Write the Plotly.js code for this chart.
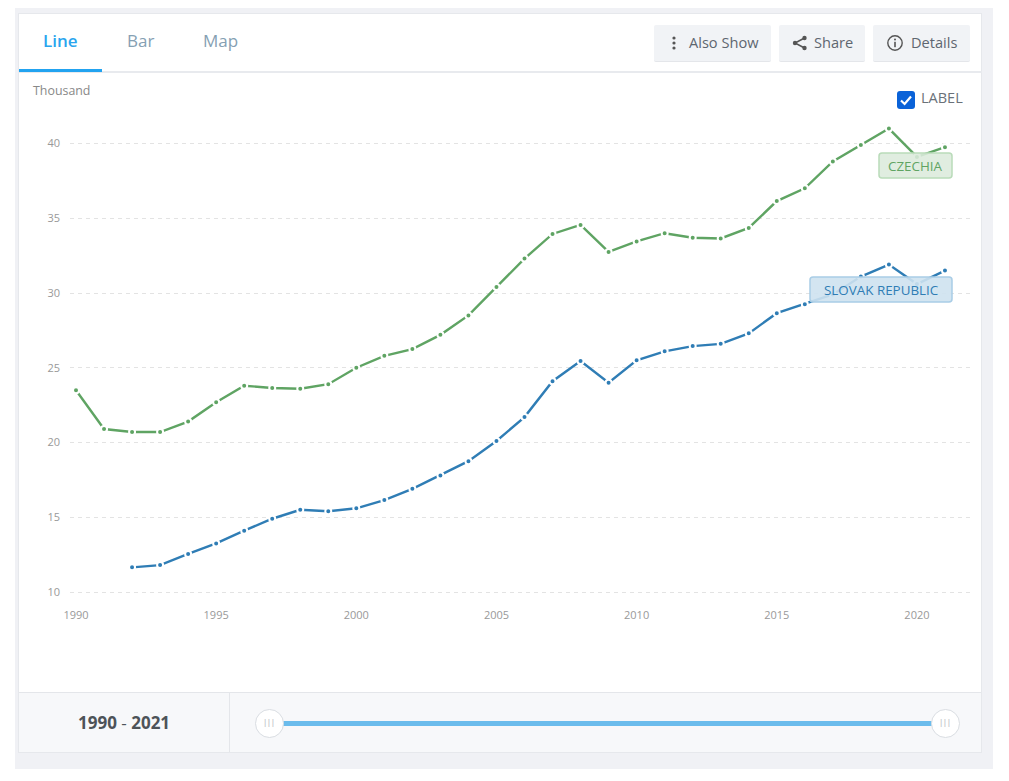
<!DOCTYPE html>
<html>
<head>
<meta charset="utf-8">
<script src="https://cdn.plot.ly/plotly-3.0.1.min.js"></script>
<style>
html,body{margin:0;padding:0;background:#fff;width:1009px;height:781px;overflow:hidden;font-family:"Open Sans",sans-serif}
.a{position:absolute;box-sizing:border-box}
.t{position:absolute;white-space:nowrap;line-height:1}
.btn{position:absolute;top:25px;height:36px;background:#f1f3f6;border-bottom:1px solid #e4e6ea;border-radius:2px;color:#5e6670;font-size:14.6px;line-height:34px}
.btn svg{position:absolute;top:9px}
.btn span{position:absolute;top:0;white-space:nowrap}
.h{position:absolute;top:709px;width:29px;height:29px;border-radius:50%;background:#fff;border:1.5px solid #d9dde2;box-sizing:border-box;color:#c4c8cc;font-size:10px;text-align:center;line-height:26px;letter-spacing:1px}
#plot{position:absolute;left:0;top:0;width:1009px;height:781px}
</style>
</head>
<body>
<div class="a" style="left:15px;top:8px;width:978px;height:761px;background:#f0f1f5"></div>
<div class="a" style="left:18px;top:13px;width:964px;height:740px;background:#fff;border:1px solid #e6e8ec"></div>
<div class="a" style="left:18px;top:71px;width:964px;height:2px;background:#e8eaee"></div>
<div class="a" style="left:19px;top:69px;width:83px;height:3px;background:#22a3f0"></div>
<div class="t" style="left:43px;top:32px;font-size:17px;font-weight:600;color:#2aa5ee">Line</div>
<div class="t" style="left:127px;top:32px;font-size:17px;color:#85a0b3">Bar</div>
<div class="t" style="left:203px;top:32px;font-size:17px;color:#85a0b3">Map</div>

<div class="btn" style="left:654px;width:117px">
  <svg width="16" height="18" style="left:12px"><circle cx="8" cy="4" r="1.6" fill="#555"/><circle cx="8" cy="9" r="1.6" fill="#555"/><circle cx="8" cy="14" r="1.6" fill="#555"/></svg>
  <span style="left:35px">Also Show</span></div>
<div class="btn" style="left:779px;width:86px">
  <svg width="18" height="18" style="left:12px"><path d="M13.5 4 L4 9 L13.5 14" fill="none" stroke="#555" stroke-width="1.5"/><circle cx="13.5" cy="4" r="2.2" fill="#555"/><circle cx="4" cy="9" r="2.2" fill="#555"/><circle cx="13.5" cy="14" r="2.2" fill="#555"/></svg>
  <span style="left:35px">Share</span></div>
<div class="btn" style="left:873px;width:97px">
  <svg width="18" height="18" style="left:13px"><circle cx="9" cy="9" r="7.2" fill="none" stroke="#555" stroke-width="1.4"/><circle cx="9" cy="5.6" r="1" fill="#555"/><rect x="8.2" y="7.8" width="1.6" height="5.4" fill="#555"/></svg>
  <span style="left:38px">Details</span></div>

<div class="a" style="left:897px;top:91px;width:18px;height:18px;border-radius:3px;background:#0a62d8"></div>
<svg class="a" style="left:897px;top:91px" width="18" height="18"><path d="M4 9.5 L7.6 13 L14 5.5" fill="none" stroke="#fff" stroke-width="2.2"/></svg>
<div class="t" style="left:921px;top:91px;font-size:14.5px;color:#6a7179">LABEL</div>

<div class="a" style="left:19px;top:692px;width:962px;height:60px;background:#f7f8fa;border-top:1px solid #e4e6ea"></div>
<div class="a" style="left:229px;top:692px;width:1px;height:60px;background:#e4e6ea"></div>
<div class="t" style="left:78px;top:714px;font-size:17px;font-weight:700;color:#4d5358">1990 <span style="font-weight:400">-</span> 2021</div>
<div class="a" style="left:282px;top:721px;width:652px;height:5px;background:#6bbcec"></div>
<div class="h" style="left:255px">III</div>
<div class="h" style="left:931px">III</div>

<div id="plot"></div>
<script>
var years = [1990,1991,1992,1993,1994,1995,1996,1997,1998,1999,2000,2001,2002,2003,2004,2005,2006,2007,2008,2009,2010,2011,2012,2013,2014,2015,2016,2017,2018,2019,2020,2021];
var czechia = [23.5,20.9,20.7,20.7,21.4,22.7,23.8,23.65,23.6,23.9,25,25.8,26.25,27.2,28.5,30.4,32.3,33.95,34.55,32.75,33.45,34,33.7,33.65,34.35,36.15,37,38.8,39.9,41,39.1,39.75];
var slovak = [null,null,11.65,11.8,12.55,13.25,14.1,14.9,15.5,15.4,15.6,16.15,16.9,17.8,18.75,20.1,21.7,24.1,25.45,24,25.5,26.1,26.45,26.6,27.3,28.65,29.25,29.9,31.1,31.9,30.6,31.5];
var yTicks = [10,15,20,25,30,35,40];
var xTicks = [1990,1995,2000,2005,2010,2015,2020];

var W=1009,H=781,L=70,R=39,T=100,B=181;
function px(x){return (x-L)/(W-L-R);}
function py(y){return (H-B-y)/(H-T-B);}
function round(x0,y0,x1,y1,r){
  var X=function(v){return px(v).toFixed(5)},Y=function(v){return py(v).toFixed(5)};
  return 'M'+X(x0+r)+','+Y(y0)+' L'+X(x1-r)+','+Y(y0)+' Q'+X(x1)+','+Y(y0)+' '+X(x1)+','+Y(y0+r)+
    ' L'+X(x1)+','+Y(y1-r)+' Q'+X(x1)+','+Y(y1)+' '+X(x1-r)+','+Y(y1)+
    ' L'+X(x0+r)+','+Y(y1)+' Q'+X(x0)+','+Y(y1)+' '+X(x0)+','+Y(y1-r)+
    ' L'+X(x0)+','+Y(y0+r)+' Q'+X(x0)+','+Y(y0)+' '+X(x0+r)+','+Y(y0)+' Z';
}
function series(name,ys,c){
  return {x:years,y:ys,name:name,type:'scatter',mode:'lines+markers',connectgaps:false,
    line:{color:c,width:2.4},marker:{color:c,size:6,line:{color:'#fff',width:2}}};
}
var font='"Open Sans",sans-serif';
Plotly.newPlot('plot',[series('Czechia',czechia,'#5fa463'),series('Slovak Republic',slovak,'#2f7db5')],{
  width:W,height:H,showlegend:false,
  margin:{l:L,r:R,t:T,b:B,pad:0},
  paper_bgcolor:'rgba(0,0,0,0)',plot_bgcolor:'rgba(0,0,0,0)',
  font:{family:font,size:11,color:'#999'},
  xaxis:{range:[1989.786,2021.893],tickvals:xTicks,ticktext:xTicks.map(String),showgrid:false,zeroline:false,showline:false,ticks:'',ticklabelstandoff:7,
    tickfont:{size:11,color:'#999'},fixedrange:true},
  yaxis:{range:[9.465,42.91],tickvals:yTicks,ticktext:yTicks.map(String),showgrid:true,gridcolor:'#e3e3e3',griddash:'4px,4px',gridwidth:1,zeroline:false,showline:false,ticks:'',ticklabelstandoff:9,
    tickfont:{size:11,color:'#999'},fixedrange:true},
  shapes:[
    {type:'path',xref:'paper',yref:'paper',layer:'above',path:round(879,153,952,178,3),fillcolor:'rgba(220,235,220,0.88)',line:{color:'#b9dbb9',width:1.5}},
    {type:'path',xref:'paper',yref:'paper',layer:'above',path:round(810,277,952,302,3),fillcolor:'rgba(206,226,240,0.9)',line:{color:'#a9cde6',width:1.5}}
  ],
  annotations:[
    {xref:'paper',yref:'paper',x:px(915),y:py(165.5),text:'CZECHIA',showarrow:false,xanchor:'center',yanchor:'middle',font:{size:13.4,color:'#5fa463'}},
    {xref:'paper',yref:'paper',x:px(881),y:py(289.5),text:'SLOVAK REPUBLIC',showarrow:false,xanchor:'center',yanchor:'middle',font:{size:13.4,color:'#2f7db5'}},
    {xref:'paper',yref:'paper',x:px(30.5),y:py(90.5),text:'Thousand',showarrow:false,xanchor:'left',yanchor:'middle',font:{size:12.4,color:'#888'}}
  ]
},{displayModeBar:false,staticPlot:true});
</script>
</body>
</html>
